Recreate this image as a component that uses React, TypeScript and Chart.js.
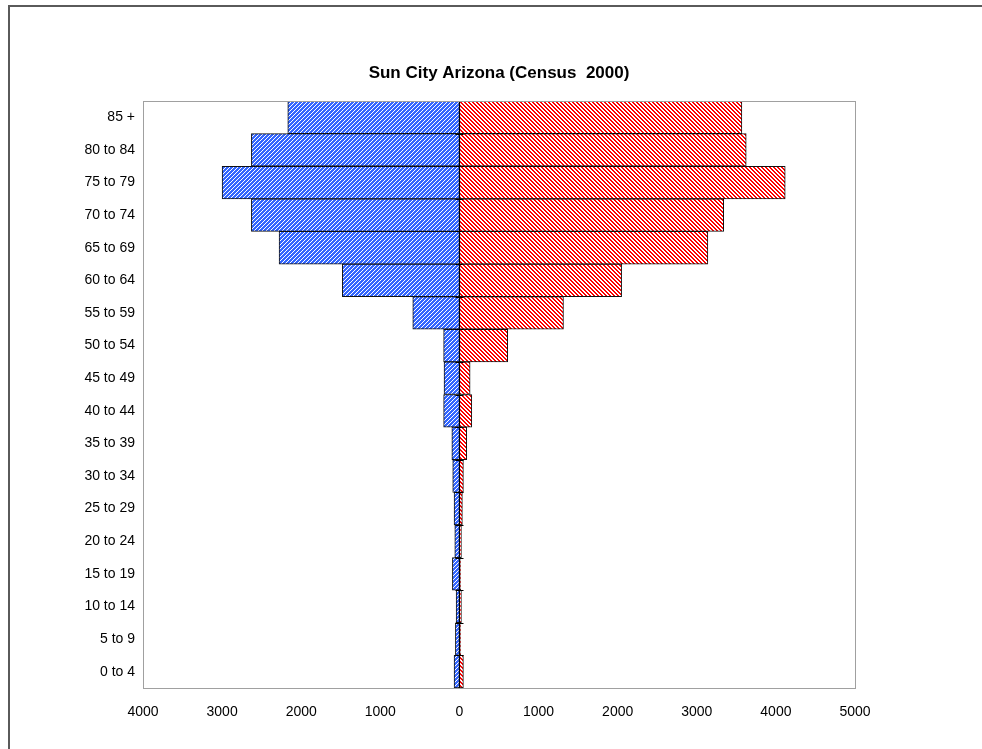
import React, { useEffect, useRef } from "react";
import { Chart, registerables } from "chart.js";

Chart.register(...registerables);

const ageGroups = [
  "85 +", "80 to 84", "75 to 79", "70 to 74", "65 to 69", "60 to 64",
  "55 to 59", "50 to 54", "45 to 49", "40 to 44", "35 to 39", "30 to 34",
  "25 to 29", "20 to 24", "15 to 19", "10 to 14", "5 to 9", "0 to 4",
];
const maleValues = [2170, 2630, 3000, 2630, 2280, 1480, 590, 200, 195, 200, 96, 85, 68, 59, 89, 42, 51, 68];
const femaleValues = [3570, 3625, 4118, 3340, 3140, 2050, 1315, 610, 135, 156, 92, 50, 37, 25, 16, 25, 16, 50];
const chartTitle = "Sun City Arizona (Census  2000)";
const xMin = -4000;
const xMax = 5000;
const xStep = 1000;

const FONT = "'Liberation Sans', Arial, sans-serif";

function makePattern(rgb: [number, number, number], isWhite: (x: number, y: number) => boolean) {
  const c = document.createElement("canvas");
  c.width = 4;
  c.height = 4;
  const ctx = c.getContext("2d")!;
  const img = ctx.createImageData(4, 4);
  for (let y = 0; y < 4; y++) {
    for (let x = 0; x < 4; x++) {
      const i = (y * 4 + x) * 4;
      const w = isWhite(x, y);
      img.data[i] = w ? 255 : rgb[0];
      img.data[i + 1] = w ? 255 : rgb[1];
      img.data[i + 2] = w ? 255 : rgb[2];
      img.data[i + 3] = 255;
    }
  }
  ctx.putImageData(img, 0, 0);
  return ctx.createPattern(c, "repeat")!;
}

const framePlugin = {
  id: "frameAndAxis",
  afterDatasetsDraw(chart: any) {
    const { ctx, chartArea } = chart;
    const xs = chart.scales.x;
    const x0 = Math.round(xs.getPixelForValue(0)) + 0.5;
    ctx.save();
    ctx.strokeStyle = "#000";
    ctx.lineWidth = 1;
    ctx.beginPath();
    ctx.moveTo(x0, chartArea.top);
    ctx.lineTo(x0, chartArea.bottom);
    const n = ageGroups.length;
    const h = (chartArea.bottom - chartArea.top) / n;
    for (let i = 0; i <= n; i++) {
      const y = Math.round(chartArea.top + i * h) + 0.5;
      ctx.moveTo(x0 - 4, y);
      ctx.lineTo(x0 + 4, y);
    }
    ctx.stroke();
    ctx.strokeStyle = "#a0a0a0";
    ctx.strokeRect(
      Math.round(chartArea.left) + 0.5,
      Math.round(chartArea.top) + 0.5,
      Math.round(chartArea.right - chartArea.left),
      Math.round(chartArea.bottom - chartArea.top)
    );
    // title centred over the plot area
    ctx.fillStyle = "#000";
    ctx.font = `bold 17px ${FONT}`;
    ctx.textAlign = "center";
    ctx.textBaseline = "middle";
    ctx.fillText(chartTitle, (chartArea.left + chartArea.right) / 2, 73);
    ctx.restore();
  },
};

export default function App() {
  const ref = useRef<HTMLCanvasElement | null>(null);
  useEffect(() => {
    if (!ref.current) return;
    const bluePat = makePattern([51, 102, 255], (x, y) => (x + y) % 4 === 0);
    const redPat = makePattern([255, 0, 0], (x, y) => ((x - y + 8) % 4) < 2);
    const chart = new Chart(ref.current, {
      type: "bar",
      data: {
        labels: ageGroups,
        datasets: [
          {
            label: "Male",
            data: maleValues.map((v) => -v),
            backgroundColor: bluePat as any,
            borderColor: "#111",
            borderWidth: 1,
            borderSkipped: false,
            barPercentage: 1,
            categoryPercentage: 1,
          },
          {
            label: "Female",
            data: femaleValues,
            backgroundColor: redPat as any,
            borderColor: "#111",
            borderWidth: 1,
            borderSkipped: false,
            barPercentage: 1,
            categoryPercentage: 1,
          },
        ],
      },
      options: {
        indexAxis: "y",
        responsive: false,
        animation: false,
        devicePixelRatio: 1,
        layout: { padding: { left: 0, right: 127, top: 101, bottom: 0 } },
        plugins: {
          legend: { display: false },
          tooltip: { enabled: false },
          title: { display: false },
        },
        scales: {
          x: {
            type: "linear",
            stacked: true,
            min: xMin,
            max: xMax,
            grid: { display: false, drawTicks: false },
            border: { display: false },
            ticks: {
              stepSize: xStep,
              color: "#000",
              padding: 16,
              font: { family: FONT, size: 14 },
              callback: (v: any) => String(Math.abs(Number(v))),
            },
            afterFit: (s: any) => {
              s.height = 61;
            },
          },
          y: {
            type: "category",
            stacked: true,
            grid: { display: false, drawTicks: false },
            border: { display: false },
            ticks: {
              color: "#000",
              padding: 8,
              font: { family: FONT, size: 14 },
            },
            afterFit: (s: any) => {
              s.width = 143;
            },
          },
        },
      },
      plugins: [framePlugin],
    });
    return () => chart.destroy();
  }, []);

  return (
    <div style={{ position: "absolute", left: 0, top: 0, width: 982, height: 749, overflow: "hidden", background: "#fff" }}>
      <div
        style={{
          position: "absolute",
          left: 8,
          top: 5,
          width: 2000,
          height: 2000,
          borderLeft: "2px solid #5a5a5a",
          borderTop: "2px solid #5a5a5a",
        }}
      />
      <canvas ref={ref} width={982} height={749} style={{ position: "absolute", left: 0, top: 0, width: 982, height: 749 }} />
    </div>
  );
}
